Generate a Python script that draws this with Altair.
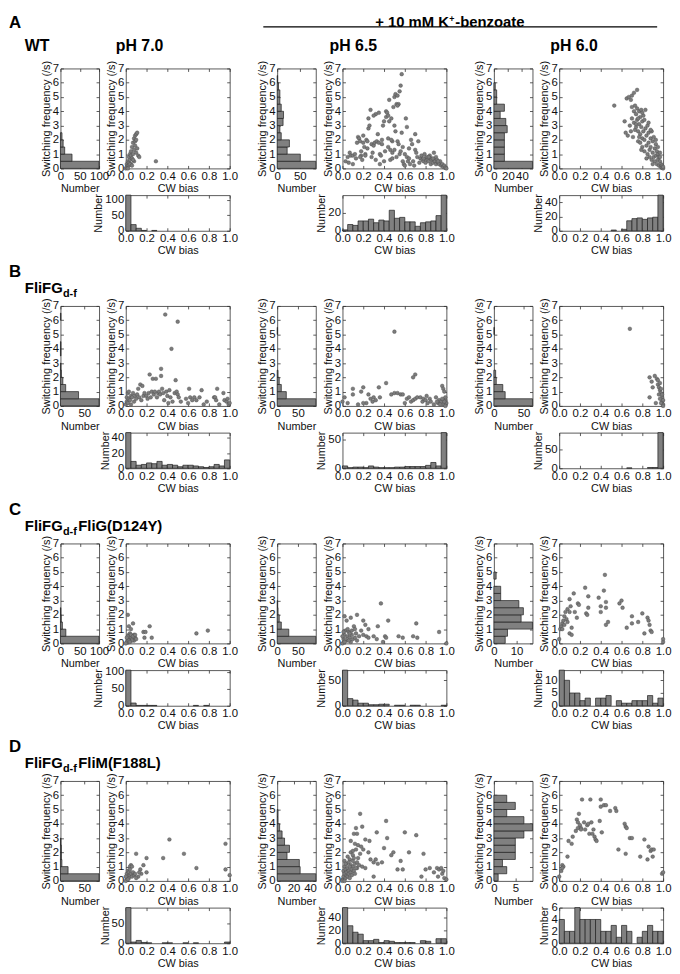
import altair as alt
import pandas as pd

FONT = "Liberation Sans"
BAR_FILL = "#808080"
BAR_EDGE = "#1e1e1e"
DOT_FILL = "#7c7c7c"
DOT_EDGE = "#484848"
FRAME = "#5a5a5a"

FREQ_EDGES = [0.0, 0.5, 1.0, 1.5, 2.0, 2.5, 3.0, 3.5, 4.0, 4.5, 5.0, 5.5, 6.0, 6.5, 7.0]
BIAS_EDGES = [0.0, 0.05, 0.1, 0.15, 0.2, 0.25, 0.3, 0.35, 0.4, 0.45, 0.5,
              0.55, 0.6, 0.65, 0.7, 0.75, 0.8, 0.85, 0.9, 0.95, 1.0]
FREQ_TICKS = [0, 1, 2, 3, 4, 5, 6, 7]
BIAS_TICKS = [0.0, 0.2, 0.4, 0.6, 0.8, 1.0]

COL_TITLES = ["pH 7.0", "pH 6.5", "pH 6.0"]
ROW_LETTERS = ["A", "B", "C", "D"]
ROW_NAMES = ["WT", "FliFG", "FliFG", "FliFG"]
ROW_SUFFIX = ["", "", " FliG(D124Y)", " FliM(F188L)"]
HEADLINE = ["+ 10 mM K", "+", "-benzoate"]

# ---------------- Row A (WT) ----------------
A70_PTS = [(0.0, 0.0), (0.01, 0.1), (0.01, 0.3), (0.02, 0.2), (0.02, 0.5), (0.03, 0.4), (0.03, 0.8),
           (0.04, 0.6), (0.04, 1.0), (0.05, 0.3), (0.05, 0.9), (0.05, 1.2), (0.06, 0.7), (0.06, 1.5),
           (0.07, 1.0), (0.07, 1.8), (0.08, 1.3), (0.08, 2.1), (0.09, 1.6), (0.09, 2.3), (0.1, 2.4),
           (0.1, 1.1), (0.11, 2.5), (0.11, 1.4), (0.12, 0.9), (0.13, 0.8), (0.03, 0.2), (0.02, 0.0),
           (0.04, 0.3), (0.06, 0.2), (0.08, 0.5), (0.07, 0.6), (0.09, 1.9), (0.1, 2.0), (0.29, 0.5)]
A70_FH = [100, 30, 11, 7, 4, 0, 0, 0, 0, 0, 0, 0, 0, 0]
A70_FD, A70_FT = 100, [0, 50, 100]
A70_BH = [116, 20, 8, 1, 0, 1, 0, 0, 0, 0, 0, 0, 0, 0, 0, 0, 0, 0, 0, 0]
A70_BD, A70_BT = 116, [0, 50, 100]

A65_PTS = [(0.03, 0.5), (0.05, 0.8), (0.07, 1.1), (0.08, 0.9), (0.06, 0.4), (0.1, 0.9), (0.1, 0.3),
           (0.12, 1.0), (0.13, 0.7), (0.14, 1.8), (0.15, 2.2), (0.16, 2.1), (0.17, 1.9), (0.18, 0.9),
           (0.17, 0.8), (0.19, 0.6), (0.2, 1.8), (0.2, 2.3), (0.21, 1.5), (0.22, 1.0), (0.22, 0.9),
           (0.23, 2.0), (0.24, 1.4), (0.25, 3.5), (0.25, 2.8), (0.26, 3.0), (0.27, 4.1), (0.28, 1.7),
           (0.28, 0.8), (0.29, 1.1), (0.3, 1.6), (0.31, 1.8), (0.32, 3.8), (0.32, 0.6), (0.33, 1.9),
           (0.34, 2.4), (0.35, 3.9), (0.35, 1.8), (0.36, 1.0), (0.36, 0.3), (0.37, 0.9), (0.38, 2.0),
           (0.38, 1.7), (0.39, 3.0), (0.4, 3.3), (0.4, 0.5), (0.41, 1.2), (0.42, 4.0), (0.42, 3.6),
           (0.43, 3.9), (0.44, 2.1), (0.44, 1.5), (0.45, 4.8), (0.45, 3.3), (0.46, 1.3), (0.46, 0.6),
           (0.47, 3.5), (0.48, 1.9), (0.48, 1.1), (0.48, 0.7), (0.49, 4.3), (0.5, 5.0), (0.5, 3.0),
           (0.5, 1.3), (0.51, 5.2), (0.51, 2.6), (0.52, 4.5), (0.52, 0.8), (0.53, 5.1), (0.53, 1.9),
           (0.54, 4.5), (0.54, 1.7), (0.55, 5.4), (0.55, 1.0), (0.56, 5.8), (0.57, 6.6), (0.57, 2.5),
           (0.58, 0.5), (0.58, 1.5), (0.59, 0.3), (0.6, 1.0), (0.6, 0.2), (0.61, 3.5), (0.62, 0.8),
           (0.62, 2.9), (0.63, 0.5), (0.64, 1.4), (0.65, 0.3), (0.66, 2.0), (0.67, 1.7), (0.68, 0.5),
           (0.69, 0.2), (0.7, 2.4), (0.7, 1.3), (0.71, 1.1), (0.72, 0.8), (0.73, 1.9), (0.74, 0.4),
           (0.75, 0.7), (0.76, 0.9), (0.77, 0.6), (0.78, 0.5), (0.79, 1.0), (0.8, 0.7), (0.8, 0.4),
           (0.81, 0.8), (0.82, 0.6), (0.83, 0.5), (0.84, 0.9), (0.85, 0.7), (0.85, 0.3), (0.86, 0.6),
           (0.87, 0.4), (0.88, 1.1), (0.88, 0.6), (0.89, 0.5), (0.9, 0.8), (0.9, 0.3), (0.91, 0.6),
           (0.92, 0.4), (0.93, 0.3), (0.94, 0.5), (0.95, 0.2), (0.96, 0.3), (0.97, 0.1), (0.98, 0.2),
           (0.99, 0.05), (1.0, 0.0), (0.18, 1.2), (0.24, 1.9), (0.3, 3.7), (0.44, 3.7), (0.47, 2.0),
           (0.53, 4.4), (0.56, 1.2), (0.64, 0.7), (0.78, 0.7), (0.83, 0.8), (0.87, 0.7), (0.92, 0.5)]
A65_FH = [85, 51, 22, 27, 9, 6, 13, 14, 9, 6, 6, 3, 1, 0]
A65_FD, A65_FT = 85, [0, 50]
A65_BH = [1, 7, 6, 11, 11, 13, 9, 12, 11, 23, 14, 15, 10, 10, 5, 9, 10, 11, 17, 40]
A65_BD, A65_BT = 40, [0, 20]

A60_PTS = [(0.53, 4.4), (0.63, 3.3), (0.64, 2.5), (0.65, 4.9), (0.66, 2.3), (0.67, 5.0), (0.68, 3.0),
           (0.69, 4.8), (0.69, 2.6), (0.7, 5.1), (0.7, 3.5), (0.71, 2.2), (0.72, 5.3), (0.72, 4.0),
           (0.72, 3.2), (0.73, 2.7), (0.73, 4.4), (0.74, 3.8), (0.74, 2.9), (0.75, 5.5), (0.75, 4.2),
           (0.75, 3.4), (0.76, 2.6), (0.76, 1.9), (0.77, 4.0), (0.77, 3.1), (0.78, 2.4), (0.78, 3.6),
           (0.78, 1.8), (0.79, 4.1), (0.79, 2.9), (0.8, 3.3), (0.8, 2.1), (0.8, 1.5), (0.81, 3.7),
           (0.81, 2.6), (0.82, 2.0), (0.82, 1.2), (0.83, 4.1), (0.83, 2.8), (0.84, 2.3), (0.84, 1.6),
           (0.85, 3.0), (0.85, 1.0), (0.86, 2.5), (0.86, 1.8), (0.87, 1.3), (0.87, 0.8), (0.88, 2.1),
           (0.88, 1.5), (0.89, 2.6), (0.89, 0.6), (0.9, 1.9), (0.9, 1.1), (0.91, 2.2), (0.91, 0.8),
           (0.92, 1.4), (0.92, 0.5), (0.93, 1.7), (0.93, 0.9), (0.94, 1.2), (0.94, 0.3), (0.95, 1.0),
           (0.95, 0.6), (0.96, 0.8), (0.96, 0.2), (0.97, 0.5), (0.97, 1.1), (0.98, 0.3), (0.98, 0.1),
           (0.99, 0.2), (0.99, 0.05), (1.0, 0.0), (1.0, 0.1), (0.8, 3.9), (0.77, 2.2), (0.74, 3.1),
           (0.7, 4.3), (0.86, 3.2), (0.79, 1.3), (0.84, 0.7), (0.9, 0.3), (0.95, 1.5), (0.76, 3.5),
           (0.82, 3.4), (0.88, 2.7), (0.93, 2.0), (0.97, 0.8)]
A60_FH = [55, 15, 15, 15, 15, 19, 17, 9, 15, 4, 4, 2, 0, 0]
A60_FD, A60_FT = 55, [0, 20, 40]
A60_BH = [0, 0, 0, 0, 0, 0, 0, 0, 0, 0, 1, 0, 2, 14, 17, 18, 16, 18, 19, 50]
A60_BD, A60_BT = 50, [0, 20, 40]

# ---------------- Row B (FliFGd-f) ----------------
B70_PTS = [(0.0, 0.1), (0.01, 0.3), (0.01, 0.6), (0.02, 0.9), (0.02, 0.2), (0.03, 0.5), (0.03, 1.0),
           (0.04, 0.4), (0.05, 0.7), (0.05, 0.1), (0.06, 0.6), (0.07, 0.9), (0.08, 0.3), (0.09, 0.7),
           (0.1, 0.5), (0.11, 0.8), (0.12, 1.2), (0.13, 0.6), (0.14, 1.5), (0.15, 0.4), (0.16, 1.4),
           (0.17, 0.7), (0.18, 0.9), (0.2, 0.7), (0.21, 0.5), (0.22, 0.9), (0.23, 2.2), (0.24, 0.6),
           (0.25, 1.0), (0.26, 1.9), (0.27, 0.8), (0.28, 1.0), (0.29, 1.9), (0.3, 0.6), (0.31, 0.9),
           (0.32, 1.0), (0.33, 0.8), (0.34, 2.6), (0.34, 2.1), (0.35, 1.2), (0.36, 0.9), (0.37, 0.4),
           (0.38, 6.4), (0.39, 1.0), (0.4, 0.7), (0.41, 0.2), (0.42, 1.1), (0.43, 0.6), (0.44, 4.0),
           (0.45, 0.3), (0.47, 0.9), (0.48, 1.8), (0.49, 1.0), (0.5, 5.9), (0.5, 0.8), (0.51, 0.6),
           (0.53, 0.3), (0.58, 0.5), (0.6, 0.2), (0.61, 1.2), (0.62, 0.6), (0.64, 0.4), (0.66, 0.6),
           (0.68, 0.4), (0.71, 0.6), (0.73, 1.1), (0.75, 0.1), (0.78, 0.3), (0.85, 0.6), (0.86, 0.6),
           (0.87, 0.4), (0.88, 1.2), (0.9, 0.1), (0.94, 0.9), (0.95, 0.4), (0.97, 0.3), (0.98, 0.5),
           (0.99, 0.1), (1.0, 0.2)]
B70_FH = [81, 38, 11, 5, 2, 1, 0, 1, 1, 0, 0, 0, 1, 0]
B70_FD, B70_FT = 81, [0, 50]
B70_BH = [47, 9, 4, 5, 7, 6, 9, 4, 5, 4, 2, 4, 4, 3, 2, 1, 2, 5, 3, 11]
B70_BD, B70_BT = 47, [0, 20, 40]

B65_PTS = [(0.5, 5.2), (0.7, 2.2), (0.68, 2.0), (0.42, 1.6), (0.35, 1.3), (0.2, 1.3), (0.1, 1.2),
           (0.1, 0.8), (0.18, 1.0), (0.23, 0.2), (0.25, 0.8), (0.27, 0.5), (0.29, 0.3), (0.3, 0.6),
           (0.32, 0.4), (0.36, 0.6), (0.47, 0.8), (0.5, 0.9), (0.53, 0.9), (0.56, 0.8), (0.58, 0.8),
           (0.6, 0.2), (0.62, 0.5), (0.64, 0.6), (0.66, 0.3), (0.68, 0.4), (0.7, 0.5), (0.72, 0.6),
           (0.75, 0.6), (0.77, 0.3), (0.78, 0.5), (0.8, 0.4), (0.81, 0.7), (0.82, 0.2), (0.84, 0.5),
           (0.85, 0.3), (0.88, 0.1), (0.9, 0.6), (0.92, 0.2), (0.93, 0.4), (0.95, 0.3), (0.96, 1.4),
           (0.97, 1.2), (0.98, 1.0), (0.99, 0.4), (1.0, 0.2), (0.97, 0.1), (0.98, 0.3), (0.99, 0.0),
           (0.0, 0.3), (0.02, 0.6), (0.05, 0.2), (0.15, 0.1), (0.2, 0.2), (0.99, 0.6), (0.96, 0.5),
           (0.94, 0.1), (0.91, 0.3)]
B65_FH = [93, 22, 10, 5, 2, 0, 0, 0, 0, 0, 1, 0, 0, 0]
B65_FD, B65_FT = 93, [0, 50]
B65_BH = [4, 1, 2, 2, 1, 4, 2, 1, 1, 1, 2, 2, 3, 3, 3, 3, 5, 10, 4, 62]
B65_BD, B65_BT = 62, [0, 50]

B60_PTS = [(0.68, 5.4), (0.87, 2.0), (0.89, 1.7), (0.9, 1.3), (0.92, 2.1), (0.94, 1.9), (0.95, 1.5),
           (0.96, 1.3), (0.97, 1.1), (0.98, 0.9), (0.99, 0.6), (0.99, 0.3), (1.0, 0.1), (0.87, 0.6),
           (0.93, 0.2), (0.96, 0.8), (0.97, 0.5), (0.98, 1.2), (0.99, 0.8), (1.0, 0.4), (0.95, 1.8),
           (0.97, 1.6), (0.98, 0.2), (1.0, 0.0)]
B60_FH = [65, 19, 15, 4, 3, 0, 0, 0, 0, 0, 1, 0, 0, 0]
B60_FD, B60_FT = 65, [0, 50]
B60_BH = [0, 0, 0, 0, 0, 0, 0, 0, 0, 0, 0, 0, 0, 1, 0, 0, 0, 2, 2, 95]
B60_BD, B60_BT = 95, [0, 50]

# ---------------- Row C (FliFGd-f FliG(D124Y)) ----------------
C70_PTS = [(0.02, 2.0), (0.03, 1.2), (0.05, 1.0), (0.07, 1.4), (0.08, 0.6), (0.06, 0.5), (0.04, 0.4),
           (0.03, 0.6), (0.02, 0.3), (0.01, 0.1), (0.0, 0.0), (0.02, 0.5), (0.04, 0.7), (0.06, 0.3),
           (0.08, 0.2), (0.09, 0.4), (0.1, 0.3), (0.17, 0.8), (0.19, 0.8), (0.23, 1.2), (0.18, 0.4),
           (0.25, 0.4), (0.68, 0.7), (0.79, 0.9), (0.01, 0.4), (0.03, 0.2), (0.05, 0.6), (0.07, 0.5),
           (0.09, 0.6), (0.06, 0.2), (0.04, 0.1)]
C70_FH = [100, 14, 5, 2, 1, 0, 0, 0, 0, 0, 0, 0, 0, 0]
C70_FD, C70_FT = 100, [0, 50, 100]
C70_BH = [105, 8, 1, 1, 1, 1, 0, 0, 0, 0, 0, 0, 0, 1, 0, 1, 0, 0, 0, 0]
C70_BD, C70_BT = 105, [0, 50, 100]

C65_PTS = [(0.37, 2.8), (0.14, 2.0), (0.02, 1.9), (0.08, 1.8), (0.04, 1.6), (0.2, 1.6), (0.22, 1.3),
           (0.25, 1.0), (0.34, 1.2), (0.44, 1.6), (0.71, 1.4), (0.93, 0.8), (0.0, 0.0), (0.01, 0.3),
           (0.02, 0.6), (0.03, 0.9), (0.04, 0.2), (0.05, 0.5), (0.06, 0.8), (0.07, 0.4), (0.08, 0.1),
           (0.09, 0.6), (0.1, 0.3), (0.11, 1.2), (0.12, 0.4), (0.13, 0.7), (0.14, 0.2), (0.16, 0.5),
           (0.18, 0.9), (0.2, 0.6), (0.23, 0.5), (0.25, 0.4), (0.3, 0.5), (0.33, 0.3), (0.39, 0.1),
           (0.41, 0.5), (0.42, 0.4), (0.54, 0.5), (0.58, 0.4), (0.68, 0.5), (0.72, 0.4), (1.0, 0.0),
           (0.0, 0.5), (0.01, 0.8), (0.03, 0.3), (0.05, 1.0), (0.06, 0.2), (0.07, 0.7), (0.09, 0.9),
           (0.12, 1.0), (0.02, 0.1)]
C65_FH = [93, 28, 10, 5, 2, 1, 0, 0, 0, 0, 0, 0, 0, 0]
C65_FD, C65_FT = 93, [0, 50]
C65_BH = [70, 14, 11, 5, 5, 2, 2, 3, 3, 0, 1, 1, 0, 1, 1, 0, 0, 0, 0, 1]
C65_BD, C65_BT = 70, [0, 50]

C60_PTS = [(0.0, 0.3), (0.01, 1.0), (0.02, 1.2), (0.03, 1.4), (0.03, 1.0), (0.04, 1.6), (0.05, 1.9),
           (0.05, 1.3), (0.06, 2.2), (0.07, 1.7), (0.08, 2.4), (0.08, 1.5), (0.1, 3.1), (0.1, 2.2),
           (0.1, 0.7), (0.11, 2.6), (0.12, 1.1), (0.12, 0.6), (0.14, 3.5), (0.15, 2.2), (0.17, 1.8),
           (0.18, 2.8), (0.19, 2.7), (0.25, 3.9), (0.26, 2.1), (0.27, 2.0), (0.28, 3.3), (0.28, 2.5),
           (0.38, 3.2), (0.4, 2.6), (0.4, 2.2), (0.43, 3.7), (0.44, 4.8), (0.45, 2.9), (0.45, 2.5),
           (0.45, 1.3), (0.47, 1.5), (0.58, 2.8), (0.6, 3.0), (0.61, 2.5), (0.65, 1.1), (0.7, 1.9),
           (0.7, 1.4), (0.76, 1.5), (0.8, 2.1), (0.82, 0.7), (0.85, 1.8), (0.86, 1.6), (0.87, 1.3),
           (0.88, 0.9), (0.89, 0.8), (1.0, 0.1), (1.0, 0.3)]
C60_FH = [5, 6, 17, 12, 13, 11, 3, 3, 0, 1, 0, 0, 0, 0]
C60_FD, C60_FT = 17, [0, 10]
C60_BH = [14, 10, 5, 5, 2, 3, 0, 3, 3, 4, 0, 2, 1, 1, 2, 2, 2, 4, 1, 3]
C60_BD, C60_BT = 14, [0, 5, 10]

# ---------------- Row D (FliFGd-f FliM(F188L)) ----------------
D70_PTS = [(0.42, 2.9), (0.96, 2.6), (0.56, 1.9), (0.1, 1.9), (0.36, 1.6), (0.2, 1.6), (0.68, 0.9),
           (0.96, 0.8), (1.0, 0.4), (0.2, 0.6), (0.17, 1.1), (0.14, 0.8), (0.15, 0.5), (0.13, 0.6),
           (0.12, 0.3), (0.05, 1.1), (0.04, 1.0), (0.06, 1.0), (0.0, 0.0), (0.01, 0.2), (0.01, 0.5),
           (0.02, 0.3), (0.02, 0.7), (0.03, 0.6), (0.03, 0.2), (0.04, 0.4), (0.05, 0.5), (0.06, 0.3),
           (0.07, 0.6), (0.08, 0.4), (0.09, 0.5), (0.1, 0.2), (0.0, 0.3), (0.02, 0.1), (0.04, 0.8)]
D70_FH = [81, 16, 3, 2, 2, 1, 0, 0, 0, 0, 0, 0, 0, 0]
D70_FD, D70_FT = 81, [0, 50]
D70_BH = [90, 3, 7, 2, 1, 0, 0, 1, 1, 0, 0, 1, 0, 1, 0, 0, 0, 0, 0, 3]
D70_BD, D70_BT = 90, [0, 50]

D65_PTS = [(0.17, 4.7), (0.42, 4.2), (0.13, 3.7), (0.19, 3.8), (0.11, 3.3), (0.14, 3.3), (0.33, 3.4),
           (0.43, 3.0), (0.6, 3.4), (0.71, 3.2), (0.08, 2.8), (0.12, 2.6), (0.15, 2.5), (0.22, 2.9),
           (0.26, 2.8), (0.4, 2.3), (0.08, 2.0), (0.1, 2.1), (0.13, 2.2), (0.18, 2.4), (0.2, 2.2),
           (0.25, 2.0), (0.47, 1.8), (0.49, 2.0), (0.64, 2.0), (0.78, 1.9), (0.05, 1.7), (0.07, 1.5),
           (0.1, 1.8), (0.15, 1.6), (0.17, 1.9), (0.27, 1.5), (0.3, 1.3), (0.32, 1.5), (0.38, 1.3),
           (0.34, 1.2), (0.56, 1.4), (0.02, 1.4), (0.04, 1.2), (0.06, 1.3), (0.08, 1.1), (0.1, 1.0),
           (0.12, 1.2), (0.14, 0.9), (0.16, 1.1), (0.19, 1.0), (0.22, 0.9), (0.53, 0.8), (0.58, 0.8),
           (0.8, 0.8), (0.84, 0.9), (0.91, 0.9), (0.93, 0.8), (0.95, 0.9), (0.88, 0.6), (0.92, 0.3),
           (0.96, 0.5), (0.97, 0.7), (0.98, 0.2), (1.0, 0.1), (0.76, 0.3), (0.3, 0.3), (0.0, 0.1),
           (0.01, 0.3), (0.01, 0.7), (0.02, 0.5), (0.02, 1.0), (0.03, 0.2), (0.03, 0.8), (0.04, 0.4),
           (0.04, 0.6), (0.05, 0.9), (0.05, 0.3), (0.06, 0.7), (0.06, 0.5), (0.07, 0.2), (0.07, 1.0),
           (0.08, 0.6), (0.09, 0.8), (0.09, 0.4), (0.11, 0.7), (0.12, 0.5), (0.13, 0.9), (0.14, 1.3),
           (0.0, 0.0), (0.02, 0.0), (0.03, 1.2), (0.1, 1.4), (0.11, 1.6)]
D65_FH = [47, 28, 27, 12, 15, 9, 6, 3, 1, 1, 0, 0, 0, 0]
D65_FD, D65_FT = 47, [0, 20, 40]
D65_BH = [55, 27, 17, 14, 4, 4, 6, 1, 4, 3, 1, 1, 1, 1, 0, 4, 3, 0, 7, 7]
D65_BD, D65_BT = 55, [0, 20, 40]

D60_PTS = [(0.0, 0.3), (0.02, 0.7), (0.03, 1.1), (0.04, 1.0), (0.03, 0.9), (0.08, 1.7), (0.09, 2.8),
           (0.12, 2.6), (0.13, 3.1), (0.16, 3.5), (0.17, 4.3), (0.18, 3.7), (0.18, 4.1), (0.19, 4.7),
           (0.2, 3.9), (0.21, 3.7), (0.21, 3.6), (0.22, 5.7), (0.24, 4.1), (0.25, 3.6), (0.27, 3.9),
           (0.28, 4.0), (0.29, 3.3), (0.3, 5.7), (0.31, 4.1), (0.32, 3.3), (0.33, 3.6), (0.34, 3.1),
           (0.35, 2.9), (0.36, 2.8), (0.39, 4.2), (0.4, 5.7), (0.4, 5.2), (0.41, 3.4), (0.43, 5.3),
           (0.45, 5.3), (0.49, 4.9), (0.54, 5.1), (0.55, 4.9), (0.57, 2.2), (0.63, 4.0), (0.64, 3.8),
           (0.64, 1.9), (0.65, 3.7), (0.68, 3.0), (0.7, 3.0), (0.78, 1.7), (0.82, 2.9), (0.85, 1.5),
           (0.86, 2.4), (0.88, 2.1), (0.89, 2.2), (0.9, 1.7), (0.91, 2.2), (0.99, 0.5), (1.0, 0.6)]
D60_FH = [1, 3, 2, 5, 5, 5, 7, 9, 7, 3, 5, 3, 0, 0]
D60_FD, D60_FT = 9, [0, 5]
D60_BH = [4, 2, 2, 6, 4, 4, 4, 4, 2, 2, 3, 1, 3, 2, 0, 1, 2, 3, 2, 2]
D60_BD, D60_BT = 6, [0, 2, 4, 6]

PANELS = [
    [(A70_PTS, A70_FH, A70_FD, A70_FT, A70_BH, A70_BD, A70_BT),
     (A65_PTS, A65_FH, A65_FD, A65_FT, A65_BH, A65_BD, A65_BT),
     (A60_PTS, A60_FH, A60_FD, A60_FT, A60_BH, A60_BD, A60_BT)],
    [(B70_PTS, B70_FH, B70_FD, B70_FT, B70_BH, B70_BD, B70_BT),
     (B65_PTS, B65_FH, B65_FD, B65_FT, B65_BH, B65_BD, B65_BT),
     (B60_PTS, B60_FH, B60_FD, B60_FT, B60_BH, B60_BD, B60_BT)],
    [(C70_PTS, C70_FH, C70_FD, C70_FT, C70_BH, C70_BD, C70_BT),
     (C65_PTS, C65_FH, C65_FD, C65_FT, C65_BH, C65_BD, C65_BT),
     (C60_PTS, C60_FH, C60_FD, C60_FT, C60_BH, C60_BD, C60_BT)],
    [(D70_PTS, D70_FH, D70_FD, D70_FT, D70_BH, D70_BD, D70_BT),
     (D65_PTS, D65_FH, D65_FD, D65_FT, D65_BH, D65_BD, D65_BT),
     (D60_PTS, D60_FH, D60_FD, D60_FT, D60_BH, D60_BD, D60_BT)],
]

# ---------------- layout sizes ----------------
HW, SW, PH, BH = 39, 105, 101, 36
GAP_A, GAP_B, GAP_ROW = 7, 28, 22
COL_W = [HW, GAP_A, SW, GAP_B, HW, GAP_A, SW, GAP_B, HW, GAP_A, SW]
FRAME_VIEW = alt.ViewBackground(stroke=FRAME, strokeWidth=1)
NO_VIEW = alt.ViewBackground(stroke="transparent")
DUMMY = alt.Data(values=[{"k": 0}])


def ax(title, values, fmt, orient):
    return alt.Axis(title=title, values=values, format=fmt, grid=False, domain=False,
                    orient=orient, tickSize=3, offset=-3, tickColor="#333333", tickWidth=0.8,
                    labelPadding=2, titlePadding=1, labelFontSize=11.5, titleFontSize=11,
                    labelColor="#111111", titleColor="#111111", titleFontWeight="normal",
                    labelFlush=False, labelOverlap=False, labelFont=FONT, titleFont=FONT)


def mirror(values, orient):
    # tick marks only, on the opposite side of the frame (MATLAB box style)
    return alt.Axis(title=None, values=values, labels=False, grid=False, domain=False,
                    orient=orient, tickSize=3, offset=-3, tickColor="#333333", tickWidth=0.8)


def spacer(w, h):
    return alt.Chart(DUMMY).mark_point(opacity=0).properties(width=w, height=h, view=NO_VIEW)


def freq_hist(counts, dmax, ticks):
    df = pd.DataFrame({"lo": FREQ_EDGES[:-1], "hi": FREQ_EDGES[1:], "n": counts,
                       "z": [0] * len(counts)})
    xs = alt.Scale(domain=[0, dmax], nice=False)
    ys = alt.Scale(domain=[0, 7], nice=False)
    bars = alt.Chart(df).transform_filter("datum.n > 0").mark_rect(
        fill=BAR_FILL, stroke=BAR_EDGE, strokeWidth=0.7).encode(
        x=alt.X("z:Q", scale=xs, axis=ax("Number", ticks, "d", "bottom")),
        x2="n:Q",
        y=alt.Y("lo:Q", scale=ys, axis=ax("Switching frequency (/s)", FREQ_TICKS, "d", "left")),
        y2="hi:Q")
    ghost = alt.Chart(df).mark_point(opacity=0, size=1).encode(
        x=alt.X("z:Q", scale=xs, axis=mirror(ticks, "top")),
        y=alt.Y("lo:Q", scale=ys, axis=mirror(FREQ_TICKS, "right")))
    return [bars, ghost]


def bias_hist(counts, dmax, ticks):
    df = pd.DataFrame({"lo": BIAS_EDGES[:-1], "hi": BIAS_EDGES[1:], "n": counts,
                       "z": [0] * len(counts)})
    xs = alt.Scale(domain=[0, 1], nice=False)
    ys = alt.Scale(domain=[0, dmax], nice=False)
    bars = alt.Chart(df).transform_filter("datum.n > 0").mark_rect(
        fill=BAR_FILL, stroke=BAR_EDGE, strokeWidth=0.7).encode(
        x=alt.X("lo:Q", scale=xs, axis=ax("CW bias", BIAS_TICKS, ".1f", "bottom")),
        x2="hi:Q",
        y=alt.Y("z:Q", scale=ys, axis=ax("Number", ticks, "d", "left")),
        y2="n:Q")
    ghost = alt.Chart(df).mark_point(opacity=0, size=1).encode(
        x=alt.X("lo:Q", scale=xs, axis=mirror(BIAS_TICKS, "top")),
        y=alt.Y("z:Q", scale=ys, axis=mirror(ticks, "right")))
    return alt.layer(bars, ghost).properties(width=SW, height=BH, view=FRAME_VIEW)


def scatter(pts):
    df = pd.DataFrame(pts, columns=["cw", "sf"])
    xs = alt.Scale(domain=[0, 1], nice=False)
    ys = alt.Scale(domain=[0, 7], nice=False)
    dots = alt.Chart(df).mark_circle(size=14, fill=DOT_FILL, stroke=DOT_EDGE, strokeWidth=0.4,
                                     opacity=1).encode(
        x=alt.X("cw:Q", scale=xs, axis=ax("CW bias", BIAS_TICKS, ".1f", "bottom")),
        y=alt.Y("sf:Q", scale=ys, axis=ax("Switching frequency (/s)", FREQ_TICKS, "d", "left")))
    ghost = alt.Chart(df).mark_point(opacity=0, size=1).encode(
        x=alt.X("cw:Q", scale=xs, axis=mirror(BIAS_TICKS, "top")),
        y=alt.Y("sf:Q", scale=ys, axis=mirror(FREQ_TICKS, "right")))
    return alt.layer(dots, ghost).properties(width=SW, height=PH, view=FRAME_VIEW)


def label(text, x, y, size, baseline="alphabetic", weight="bold"):
    return alt.Chart(DUMMY).mark_text(text=text, x=x, y=y, align="left", baseline=baseline,
                                      fontSize=size, fontWeight=weight, font=FONT,
                                      color="black")


def annotations(r):
    items = []
    if r == 0:
        # invisible white pin fixing the top-left corner of the whole figure
        items.append(alt.Chart(DUMMY).mark_rule(color="white", strokeWidth=1).encode(
            x=alt.value(-52), x2=alt.value(-51), y=alt.value(-55)))
        items.append(label(ROW_LETTERS[0], -52, -54, 17, baseline="top"))
        items.append(label(HEADLINE[0], 318, -54, 15, baseline="top"))
        items.append(label(HEADLINE[1], 393, -54, 9, baseline="top"))
        items.append(label(HEADLINE[2], 399, -54, 15, baseline="top"))
        items.append(alt.Chart(DUMMY).mark_rule(color="black", strokeWidth=1.3).encode(
            x=alt.value(205), x2=alt.value(603), y=alt.value(-42)))
        items.append(label(ROW_NAMES[0], -36, -31, 16, baseline="top"))
        for t, x in zip(COL_TITLES, [56, 272, 495]):
            items.append(label(t, x, -31, 16, baseline="top"))
    else:
        items.append(label(ROW_LETTERS[r], -52, -42, 17, baseline="top"))
        items.append(label(ROW_NAMES[r], -36, -13, 15))
        items.append(label("d-f", 2.5, -9, 11))
        if ROW_SUFFIX[r]:
            items.append(label(ROW_SUFFIX[r], 18, -13, 15))
    return items


cells = []
for r, row in enumerate(PANELS):
    top, bottom = [], []
    for c, (pts, fh, fd, ft, bh, bd, bt) in enumerate(row):
        layers = freq_hist(fh, fd, ft)
        if c == 0:
            layers += annotations(r)
        h = alt.layer(*layers).properties(width=HW, height=PH, view=FRAME_VIEW)
        top += [h, spacer(GAP_A, PH), scatter(pts)]
        bottom += [spacer(HW, BH), spacer(GAP_A, BH), bias_hist(bh, bd, bt)]
        if c < 2:
            top.append(spacer(GAP_B, PH))
            bottom.append(spacer(GAP_B, BH))
    cells += top + bottom
    if r < len(PANELS) - 1:
        cells += [spacer(w, GAP_ROW) for w in COL_W]

chart = alt.concat(*cells, columns=11, spacing={"row": 27, "column": 10},
                   bounds="flush", align="each").properties(
    padding=0, background="white"
).configure(font=FONT)

chart.save("out.html", embed_options={"renderer": "svg", "actions": False})
